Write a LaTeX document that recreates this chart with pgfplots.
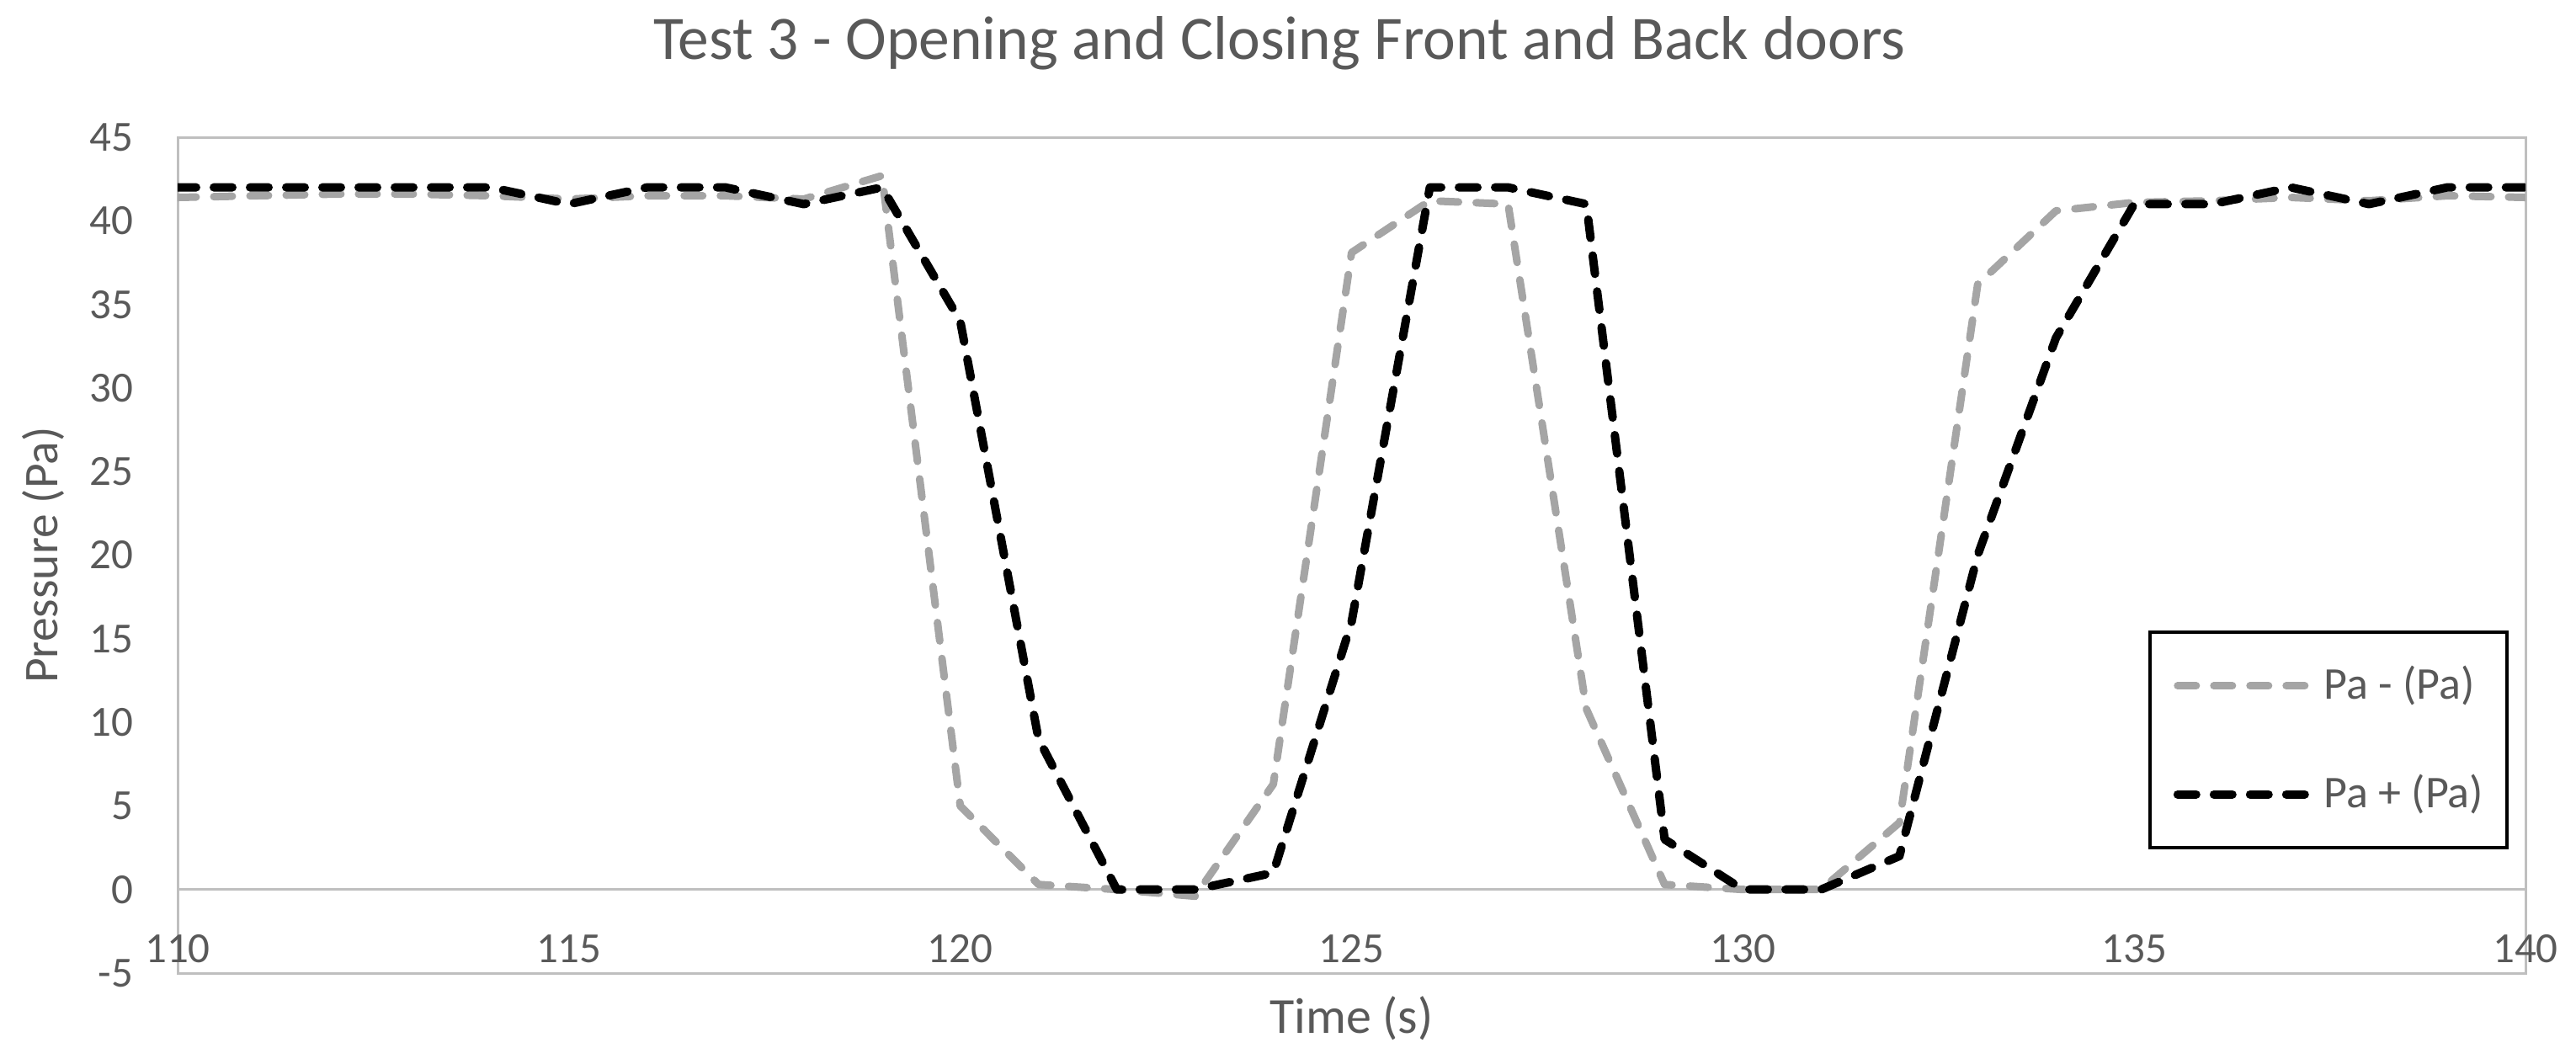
\documentclass[border=0pt]{standalone}
\usepackage{pgfplots}
\pgfplotsset{compat=1.18}
\usepackage{fontspec}
\setmainfont{Carlito}
\definecolor{txt}{HTML}{595959}
\definecolor{bord}{HTML}{BFBFBF}
\definecolor{lgray}{HTML}{A5A5A5}
\begin{document}
\begin{tikzpicture}
\path[use as bounding box] (-42.2pt,-21.4pt) rectangle (569.8pt,231.2pt);
\begin{axis}[
  at={(0pt,0pt)}, anchor=south west,
  scale only axis, width=557.8pt, height=198.6pt,
  xmin=110, xmax=140, ymin=-5, ymax=45,
  xtick={110,115,...,140}, ytick={-5,0,...,45},
  xticklabels={110,115,120,125,130,135,140},
  yticklabels={-5,0,5,10,15,20,25,30,35,40,45},
  major tick length=0pt,
  axis line style={draw=bord, line width=0.6pt},
  tick label style={font=\fontsize{10.2}{12}\selectfont, text=txt},
  xticklabel style={anchor=base, yshift=2.6pt},
  yticklabel style={anchor=east, inner sep=0pt, xshift=-10.4pt},
  legend style={at={(0.9928,0.148)}, anchor=south east, draw=black, line width=0.75pt, fill=white,
    inner xsep=5.6pt, inner ysep=8pt, row sep=16.4pt, column sep=2.8pt,
    font=\fontsize{10.8}{12}\selectfont, text=txt, nodes={inner sep=0pt}},
  legend cell align=left,
  legend image code/.code={\draw[#1] (1pt,0pt) -- (32pt,0pt);},
]
\draw[bord, line width=0.6pt] (axis cs:110,0) -- (axis cs:140,0);
\addplot[lgray, line width=1.8pt, dash pattern=on 4.4pt off 4.2pt, line cap=round, line join=round] coordinates {
(110,41.4)(111,41.5)(112,41.6)(113,41.6)(114,41.5)(115,41.3)(116,41.5)(117,41.5)(118,41.3)(119,42.7)
(120,5.0)(121,0.3)(122,0.0)(123,-0.4)(124,6.3)(125,38.1)(126,41.2)(127,41.0)(128,10.8)(129,0.3)
(130,0.0)(131,0.0)(132,4.0)(133,36.2)(134,40.6)(135,41.1)(136,41.2)(137,41.4)(138,41.2)(139,41.5)(140,41.4)
};
\addlegendentry{Pa - (Pa)}
\addplot[black, line width=2pt, dash pattern=on 4.4pt off 4.2pt, line cap=round, line join=round] coordinates {
(110,42)(111,42)(112,42)(113,42)(114,42)(115,41)(116,42)(117,42)(118,41)(119,42)
(120,34)(121,9)(122,0)(123,0)(124,1)(125,16)(126,42)(127,42)(128,41)(129,3)
(130,0)(131,0)(132,2)(133,20)(134,33)(135,41)(136,41)(137,42)(138,41)(139,42)(140,42)
};
\addlegendentry{Pa + (Pa)}
\end{axis}
\node[anchor=base, font=\fontsize{14.7}{17}\selectfont, text=txt] at (261.8pt,217.2pt) {Test 3 - Opening and Closing Front and Back doors};
\node[rotate=90, anchor=center, font=\fontsize{11.5}{14}\selectfont, text=txt] at (-32pt,99.3pt) {Pressure (Pa)};
\node[anchor=base, font=\fontsize{12}{14}\selectfont, text=txt] at (278.9pt,-14.2pt) {Time (s)};
\end{tikzpicture}
\end{document}
